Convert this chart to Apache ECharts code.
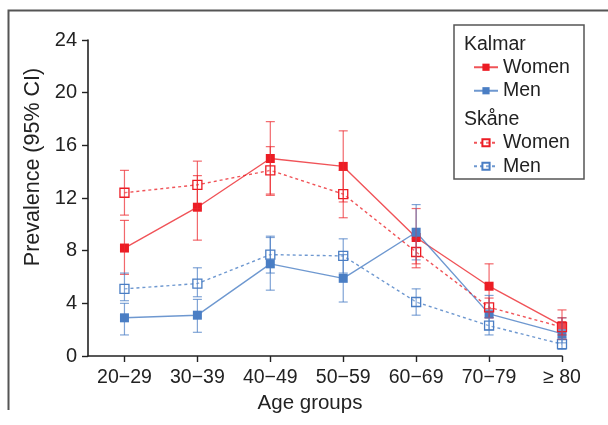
<!DOCTYPE html>
<html>
<head>
<meta charset="utf-8">
<script src="https://cdn.jsdelivr.net/npm/echarts@6/dist/echarts.min.js"></script>
<style>html,body{margin:0;padding:0;background:#fff}#c{width:608px;height:425px}</style>
</head>
<body>
<div id="c"></div>
<script>
const categories = ['20\u221229','30\u221239','40\u221249','50\u221259','60\u221269','70\u221279','\u2265 80'];
const yTicks = [0, 4, 8, 12, 16, 20, 24];

const kalmarWomen     = [8.2, 11.3, 15.0, 14.4, 9.0, 5.3, 2.3];
const kalmarWomenLow  = [6.2, 8.8, 12.3, 11.7, 6.7, 3.6, 1.3];
const kalmarWomenHigh = [10.3, 13.7, 17.8, 17.1, 11.2, 7.0, 3.5];

const kalmarMen       = [2.9, 3.1, 7.0, 5.9, 9.4, 3.2, 1.7];
const kalmarMenLow    = [1.6, 1.8, 5.0, 4.1, 7.3, 2.0, 1.0];
const kalmarMenHigh   = [4.0, 4.3, 9.0, 7.7, 11.5, 4.6, 2.9];

const skaneWomen      = [12.4, 13.0, 14.1, 12.3, 7.9, 3.7, 2.2];
const skaneWomenLow   = [10.7, 11.2, 12.2, 10.5, 7.0, 2.9, 1.6];
const skaneWomenHigh  = [14.1, 14.8, 15.9, 14.1, 8.9, 4.4, 2.9];

const skaneMen        = [5.1, 5.5, 7.7, 7.6, 4.1, 2.3, 0.9];
const skaneMenLow     = [4.2, 4.5, 6.3, 6.3, 3.1, 1.6, 0.5];
const skaneMenHigh    = [6.3, 6.7, 9.1, 8.9, 5.1, 2.9, 1.35];

const RED = '#ec1c24', BLUE = '#4a7ec4';
const RED_LINE = 'rgba(236,40,46,0.8)', BLUE_LINE = 'rgba(74,126,196,0.8)';
const FONT = 'Liberation Sans';

function pts(vals){ return vals.map((v,i)=>[i, v]); }
function errData(lo, hi){ return lo.map((l,i)=>[i, l, hi[i]]); }

function lineSeries(name, vals, color, lineColor, dashed, hollow){
  return {
    name: name, type: 'line', data: pts(vals), z: 3,
    symbol: 'rect', symbolSize: 9,
    lineStyle: { color: lineColor, width: 1.4, type: dashed ? [3,3] : 'solid' },
    itemStyle: hollow ? { color: 'rgba(255,255,255,0.2)', borderColor: color, borderWidth: 1.3 }
                      : { color: color, borderColor: color, borderWidth: 0 },
    emphasis: { disabled: true }, animation: false
  };
}
function errSeries(lo, hi, color){
  return {
    type: 'custom', data: errData(lo, hi), z: 4, animation: false, silent: true,
    renderItem: function(params, api){
      const x = api.value(0);
      const a = api.coord([x, api.value(1)]);
      const b = api.coord([x, api.value(2)]);
      const w = 4.5;
      const st = { stroke: color, lineWidth: 1.2 };
      return { type: 'group', children: [
        { type: 'line', shape: { x1: a[0], y1: a[1], x2: b[0], y2: b[1] }, style: st },
        { type: 'line', shape: { x1: a[0]-w, y1: a[1], x2: a[0]+w, y2: a[1] }, style: st },
        { type: 'line', shape: { x1: b[0]-w, y1: b[1], x2: b[0]+w, y2: b[1] }, style: st }
      ]};
    }
  };
}

const chart = echarts.init(document.getElementById('c'));
const legendCommon = {
  orient: 'vertical', left: 473, padding: 0, itemWidth: 24, itemHeight: 9,
  itemGap: 0, selectedMode: false,
  formatter: n => n.split(' ')[1],
  textStyle: { fontFamily: FONT, fontSize: 19.5, color: '#222', lineHeight: 23.5 }
};
chart.setOption({
  animation: false,
  textStyle: { fontFamily: FONT },
  grid: { left: 88, right: 46, top: 40, bottom: 69 },
  title: [
    { text: 'Kalmar', left: 464, top: 33.5, padding: 0, textStyle: { fontFamily: FONT, fontSize: 19.5, fontWeight: 'normal', color: '#222', lineHeight: 22 } },
    { text: 'Sk\u00e5ne', left: 464, top: 108.5, padding: 0, textStyle: { fontFamily: FONT, fontSize: 19.5, fontWeight: 'normal', color: '#222', lineHeight: 22 } }
  ],
  legend: [
    Object.assign({ top: 55.5, data: ['Kalmar Women', 'Kalmar Men'] }, legendCommon),
    Object.assign({ top: 131, data: ['Sk\u00e5ne Women', 'Sk\u00e5ne Men'] }, legendCommon)
  ],
  graphic: [
    { type: 'rect', shape: { x: 454, y: 25, width: 130, height: 154 }, style: { fill: 'none', stroke: '#555', lineWidth: 1.5 }, silent: true },
    { type: 'polyline', shape: { points: [[8.5, 410], [8.5, 10.5], [608, 10.5]] }, style: { fill: 'none', stroke: '#555', lineWidth: 2 }, silent: true }
  ],
  xAxis: {
    type: 'value', min: -0.5, max: 6,
    name: 'Age groups', nameLocation: 'middle', nameGap: 36,
    nameTextStyle: { fontFamily: FONT, fontSize: 20.5, color: '#222', padding: [0, 30, 0, 0] },
    axisLine: { show: true, onZero: false, lineStyle: { color: '#222', width: 1.6 } },
    axisTick: { show: true, length: 6, lineStyle: { color: '#222', width: 1.4 }, customValues: [0,1,2,3,4,5,6] },
    axisLabel: { customValues: [0,1,2,3,4,5,6], formatter: v => categories[Math.round(v)] ?? '', fontFamily: FONT, fontSize: 19.5, color: '#222', margin: 12 },
    splitLine: { show: false }
  },
  yAxis: {
    type: 'value', min: yTicks[0], max: yTicks[yTicks.length-1], interval: 4,
    name: 'Prevalence (95% CI)', nameLocation: 'middle', nameGap: 32,
    nameTextStyle: { fontFamily: FONT, fontSize: 21.5, color: '#222', padding: [0, 0, 0, 62] },
    axisLine: { show: true, onZero: false, lineStyle: { color: '#222', width: 1.6 } },
    axisTick: { show: true, length: 6, lineStyle: { color: '#222', width: 1.4 } },
    axisLabel: { fontFamily: FONT, fontSize: 20, color: '#222', margin: 11 },
    splitLine: { show: false }
  },
  series: [
    lineSeries('Kalmar Women', kalmarWomen, RED, RED_LINE, false, false),
    lineSeries('Kalmar Men', kalmarMen, BLUE, BLUE_LINE, false, false),
    lineSeries('Sk\u00e5ne Women', skaneWomen, RED, RED_LINE, true, true),
    lineSeries('Sk\u00e5ne Men', skaneMen, BLUE, BLUE_LINE, true, true),
    errSeries(kalmarWomenLow, kalmarWomenHigh, 'rgba(236,40,46,0.7)'),
    errSeries(kalmarMenLow, kalmarMenHigh, 'rgba(74,126,196,0.7)'),
    errSeries(skaneWomenLow, skaneWomenHigh, 'rgba(236,40,46,0.7)'),
    errSeries(skaneMenLow, skaneMenHigh, 'rgba(74,126,196,0.7)')
  ]
});
</script>
</body>
</html>
